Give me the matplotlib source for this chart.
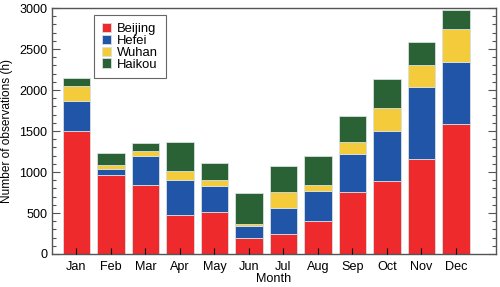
import matplotlib
matplotlib.use('Agg')
import matplotlib.pyplot as plt
import numpy as np
from matplotlib.ticker import MultipleLocator

plt.rcParams['font.family'] = ['Liberation Sans', 'DejaVu Sans']

months = ['Jan', 'Feb', 'Mar', 'Apr', 'May', 'Jun', 'Jul', 'Aug', 'Sep', 'Oct', 'Nov', 'Dec']
beijing = [1500, 960, 840, 480, 515, 200, 240, 400, 760, 890, 1160, 1580]
hefei = [370, 80, 350, 420, 315, 140, 320, 370, 460, 610, 880, 760]
wuhan = [180, 50, 70, 110, 70, 30, 200, 70, 140, 280, 270, 410]
haikou = [100, 140, 90, 350, 210, 380, 310, 360, 320, 350, 270, 220]

cities = ['Beijing', 'Hefei', 'Wuhan', 'Haikou']
colors = ['#EE2A2C', '#2155A8', '#F4CB3A', '#2A6236']

fs = 9.1

fig, ax = plt.subplots(figsize=(5, 2.87), dpi=100)
fig.subplots_adjust(left=0.104, right=0.991, bottom=0.115, top=0.972)

x = np.arange(len(months))
bottom = np.zeros(len(months))
for name, vals, c in zip(cities, [beijing, hefei, wuhan, haikou], colors):
    ax.bar(x, vals, bottom=bottom, width=0.8, color=c, edgecolor='#d8e0e0',
           linewidth=0.6, label=name, zorder=2)
    bottom += np.array(vals)

ax.set_xlim(-0.71, 12.15)
ax.set_ylim(0, 3000)
ax.set_xticks(x)
ax.set_xticklabels(months)
ax.yaxis.set_major_locator(MultipleLocator(500))
ax.yaxis.set_minor_locator(MultipleLocator(100))
ax.tick_params(axis='y', which='both', direction='in', left=True, right=True, labelsize=fs)
ax.tick_params(axis='y', which='major', length=6, width=0.8, color='#555555')
ax.tick_params(axis='y', which='minor', length=3, width=0.8, color='#555555')
ax.tick_params(axis='x', direction='in', length=4, width=0.8, labelsize=fs, pad=5)
ax.set_axisbelow(False)

for sp in ax.spines.values():
    sp.set_color('#555555')
    sp.set_linewidth(1.0)

ax.set_xlabel('Month', fontsize=fs, labelpad=0)
ax.set_ylabel('Number of observations (h)', fontsize=8.6, labelpad=4)

leg = ax.legend(loc='upper left', bbox_to_anchor=(0.095, 0.972), borderaxespad=0,
                fontsize=9.4, handlelength=0.7, handleheight=0.7, handletextpad=0.45,
                labelspacing=-0.02, borderpad=0.6, fancybox=False, framealpha=1)
leg.get_frame().set_edgecolor('#666666')
leg.get_frame().set_linewidth(0.8)

plt.savefig('out.png', dpi=100)
